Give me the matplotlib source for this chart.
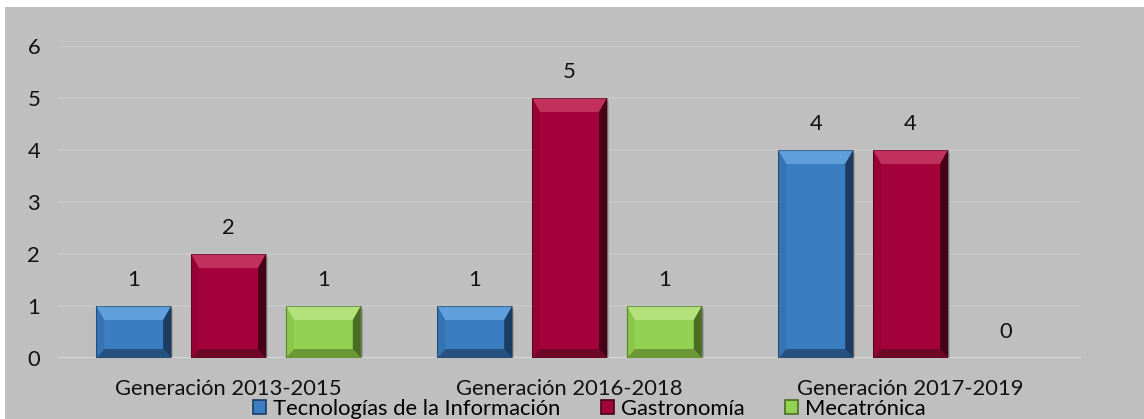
import numpy as np
import matplotlib
matplotlib.use('Agg')
import matplotlib.pyplot as plt
from matplotlib.patches import Polygon, Rectangle, Patch

categories = ['Generación 2013-2015', 'Generación 2016-2018', 'Generación 2017-2019']
series_names = ['Tecnologías de la Información', 'Gastronomía', 'Mecatrónica']
ti_vals = [1, 1, 4]
gastro_vals = [2, 5, 4]
meca_vals = [1, 1, 0]
y_ticks = [0, 1, 2, 3, 4, 5, 6]

# face, top bevel, left, right, bottom
palettes = [
    ('#3A7DC0', '#5E9FDC', '#3573B2', '#1B3D63', '#27527F'),
    ('#A3033A', '#C2305E', '#960235', '#470016', '#6E0827'),
    ('#93D152', '#B3E27D', '#89C64A', '#4A6D22', '#6B9835'),
]

plt.rcParams['font.family'] = ['Lato', 'DejaVu Sans']
FS = 15.8

W, H = 1144, 419
fig = plt.figure(figsize=(W / 100, H / 100), dpi=100)
fig.patch.set_facecolor('white')
fig.patches.append(Rectangle((5 / W, 0), 1, (H - 7) / H, transform=fig.transFigure,
                             facecolor='#BFBFBF', edgecolor='none', zorder=-10))

ax = fig.add_axes([58 / W, 1 - 358 / H, (1081 - 58) / W, (358 - 46) / H])
ax.set_facecolor('none')
ax.set_xlim(-0.5, 2.5)
ax.set_ylim(0, 6)

# px per data unit
ppx = (1081 - 58) / 3.0
ppy = (358 - 46) / 6.0


def bevel_bar(x, h, w, pal):
    if h <= 0:
        return
    face, top, left, right, bot = pal
    x0, x1 = x - w / 2, x + w / 2
    sx = 8 / ppx
    tt = min(14 / ppy, h * 0.3)
    bb = min(9 / ppy, h * 0.2)
    # shadow
    ax.add_patch(Rectangle((x0 + 2 / ppx, -3 / ppy), w, h, facecolor='#9a9a9a',
                           edgecolor='none', zorder=1, alpha=0.6))
    ax.add_patch(Rectangle((x0, 0), w, h, facecolor=face, edgecolor='none', zorder=2))
    ax.add_patch(Polygon([(x0, h), (x1, h), (x1 - sx, h - tt), (x0 + sx, h - tt)],
                         closed=True, facecolor=top, edgecolor='none', zorder=3))
    ax.add_patch(Polygon([(x0, 0), (x1, 0), (x1 - sx, bb), (x0 + sx, bb)],
                         closed=True, facecolor=bot, edgecolor='none', zorder=3))
    ax.add_patch(Polygon([(x0, 0), (x0 + sx, bb), (x0 + sx, h - tt), (x0, h)],
                         closed=True, facecolor=left, edgecolor='none', zorder=3))
    ax.add_patch(Polygon([(x1, 0), (x1 - sx, bb), (x1 - sx, h - tt), (x1, h)],
                         closed=True, facecolor=right, edgecolor='none', zorder=3))
    ax.add_patch(Rectangle((x0, 0), w, h, facecolor='none', edgecolor='#00000055',
                           linewidth=0.8, zorder=4))


x = np.arange(len(categories))
width = 0.22
offsets = [-0.278, 0, 0.278]
for vals, off, pal in zip([ti_vals, gastro_vals, meca_vals], offsets, palettes):
    for xi, v in zip(x, vals):
        bevel_bar(xi + off, v, width, pal)
        ax.text(xi + off, v + 16 / ppy, str(v), ha='center', va='bottom',
                fontsize=FS, color='#111111', zorder=5)

ax.set_yticks(y_ticks)
ax.set_xticks(x)
ax.set_xticklabels(categories)
ax.tick_params(axis='both', length=0, labelsize=FS, colors='#111111')
ax.tick_params(axis='y', pad=22)
ax.tick_params(axis='x', pad=15)
for t in ax.get_yticklabels():
    t.set_horizontalalignment('left')
ax.grid(axis='y', color='#C9C9C9', linewidth=1.2, zorder=0)
ax.set_axisbelow(True)
for s in ax.spines.values():
    s.set_visible(False)
ax.axhline(0, color='#D9D9D9', linewidth=2, zorder=1)

handles = [Patch(facecolor=p[0], edgecolor=p[3], linewidth=1.2) for p in palettes]
fig.legend(handles, series_names, loc='center', bbox_to_anchor=(0.515, 0.024), ncol=3,
           frameon=False, fontsize=FS, handlelength=0.6, handleheight=0.6,
           handletextpad=0.3, columnspacing=1.85, borderpad=0, borderaxespad=0)

fig.savefig('out.png', dpi=100)
